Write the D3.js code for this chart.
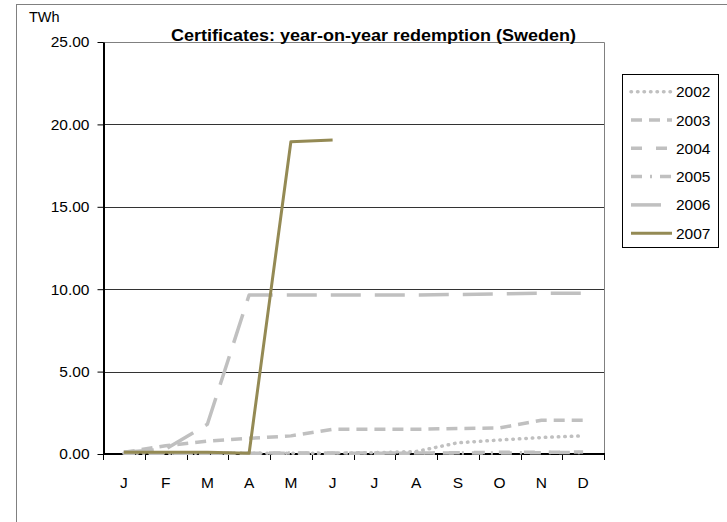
<!DOCTYPE html>
<html>
<head>
<meta charset="utf-8">
<script src="https://cdn.jsdelivr.net/npm/d3@7"></script>
<style>
  body { margin: 0; background: #fff; }
  text { font-family: "Liberation Sans", Arial, sans-serif; }
</style>
</head>
<body>
<div id="chart"></div>
<script>
// data
const months = ["J", "F", "M", "A", "M", "J", "J", "A", "S", "O", "N", "D"];
const years = ["2002", "2003", "2004", "2005", "2006", "2007"];
const v2002 = [0.05, 0.05, 0.05, 0.05, 0.05, 0.05, 0.08, 0.15, 0.68, 0.85, 1.0, 1.1];
const v2003 = [0.1, 0.5, 0.78, 0.95, 1.1, 1.5, 1.5, 1.5, 1.55, 1.58, 2.05, 2.05];
const v2004 = [0.05, 0.05, 0.05, 0.05, 0.05, 0.05, 0.05, 0.05, 0.08, 0.1, 0.1, 0.12];
const v2005 = [0.05, 0.05, 0.05, 0.05, 0.06, 0.06, 0.06, 0.06, 0.06, 0.06, 0.08, 0.1];
const v2006 = [0.1, 0.3, 1.8, 9.65, 9.65, 9.65, 9.65, 9.65, 9.68, 9.72, 9.75, 9.75];
const v2007 = [0.1, 0.1, 0.1, 0.05, 18.95, 19.05];
const yTicks = [0, 5, 10, 15, 20, 25];

const series = [
  {name: years[0], values: v2002, color: "#c0c0c0", dash: "0.5,6", cap: "round", w: 3.5},
  {name: years[1], values: v2003, color: "#c0c0c0", dash: "11,7", cap: "butt", w: 3.5},
  {name: years[2], values: v2004, color: "#c0c0c0", dash: "11,14", cap: "butt", w: 3.5},
  {name: years[3], values: v2005, color: "#c0c0c0", dash: "11,8,2,8", cap: "butt", w: 3.5},
  {name: years[4], values: v2006, color: "#c0c0c0", dash: "30,14", cap: "butt", w: 3.5},
  {name: years[5], values: v2007, color: "#948a54", dash: null, cap: "butt", w: 3}
];

const W = 727, H = 522;
const plot = {left: 103, right: 604, top: 42, bottom: 454};

const svg = d3.select("#chart").append("svg")
  .attr("width", W).attr("height", H);

// outer frame (cut by the image edge)
svg.append("rect")
  .attr("x", 16.5).attr("y", 4.5)
  .attr("width", W + 20).attr("height", H + 20)
  .attr("fill", "none").attr("stroke", "#808080");

const x = d3.scaleBand().domain(d3.range(12)).range([plot.left, plot.right]);
const y = d3.scaleLinear().domain([0, 25]).range([plot.bottom, plot.top]);
const cx = i => x(i) + x.bandwidth() / 2;

// gridlines
svg.append("g").selectAll("line")
  .data(yTicks.filter(d => d > 0 && d < 25))
  .enter().append("line")
  .attr("x1", plot.left).attr("x2", plot.right)
  .attr("y1", d => Math.round(y(d)) + 0.5).attr("y2", d => Math.round(y(d)) + 0.5)
  .attr("stroke", "#333").attr("stroke-width", 1);

// plot border top and right
svg.append("path")
  .attr("d", `M${plot.left},${plot.top + 0.5}H${plot.right + 0.5}V${plot.bottom}`)
  .attr("fill", "none").attr("stroke", "#808080");

// y axis
const yAxis = svg.append("g")
  .attr("transform", `translate(${plot.left + 0.5},0)`)
  .call(d3.axisLeft(y).tickValues(yTicks).tickFormat(d3.format(".2f")).tickSize(6).tickSizeOuter(0));
yAxis.select(".domain").attr("stroke", "#000").attr("stroke-width", 2);
yAxis.selectAll(".tick line").attr("stroke", "#000");
yAxis.selectAll("text").attr("font-size", 15.5).attr("fill", "#000").attr("x", -14)
  .attr("font-family", "Liberation Sans, Arial, sans-serif");

// x axis: ticks on month boundaries
const xg = svg.append("g");
xg.append("line")
  .attr("x1", plot.left).attr("x2", plot.right + 1)
  .attr("y1", plot.bottom).attr("y2", plot.bottom)
  .attr("stroke", "#000").attr("stroke-width", 2);
xg.selectAll(".xt").data(d3.range(13)).enter().append("line")
  .attr("x1", i => Math.round(i < 12 ? x(i) : plot.right) + 0.5)
  .attr("x2", i => Math.round(i < 12 ? x(i) : plot.right) + 0.5)
  .attr("y1", plot.bottom).attr("y2", plot.bottom + 6)
  .attr("stroke", "#000");
xg.selectAll("text").data(months).enter().append("text")
  .attr("x", (d, i) => cx(i)).attr("y", 488)
  .attr("text-anchor", "middle").attr("font-size", 15.5)
  .text(d => d);

// lines
const line = d3.line()
  .x((d, i) => cx(i))
  .y(d => y(d));

svg.append("g").selectAll("path")
  .data(series).enter().append("path")
  .attr("d", d => line(d.values))
  .attr("fill", "none")
  .attr("stroke", d => d.color)
  .attr("stroke-width", d => d.w)
  .attr("stroke-dasharray", d => d.dash)
  .attr("stroke-linecap", d => d.cap)
  .attr("stroke-linejoin", "round");

// title
svg.append("text")
  .attr("x", 171).attr("y", 41)
  .attr("font-size", 16.5).attr("font-weight", "bold")
  .attr("textLength", 405).attr("lengthAdjust", "spacingAndGlyphs")
  .text("Certificates: year-on-year redemption (Sweden)");

svg.append("text")
  .attr("x", 29).attr("y", 22)
  .attr("font-size", 14.5)
  .text("TWh");

// legend
const lg = svg.append("g");
lg.append("rect")
  .attr("x", 622.5).attr("y", 74.5).attr("width", 96).attr("height", 173)
  .attr("fill", "#fff").attr("stroke", "#000");
const item = lg.selectAll(".item").data(series).enter().append("g")
  .attr("transform", (d, i) => `translate(0,${91.7 + i * 28.3})`);
item.append("line")
  .attr("x1", 631).attr("x2", 672)
  .attr("stroke", d => d.color)
  .attr("stroke-width", d => d.w)
  .attr("stroke-dasharray", d => d.dash)
  .attr("stroke-linecap", d => d.cap);
item.append("text")
  .attr("x", 676).attr("y", 5.5)
  .attr("font-size", 15.5)
  .text(d => d.name);
</script>
</body>
</html>
